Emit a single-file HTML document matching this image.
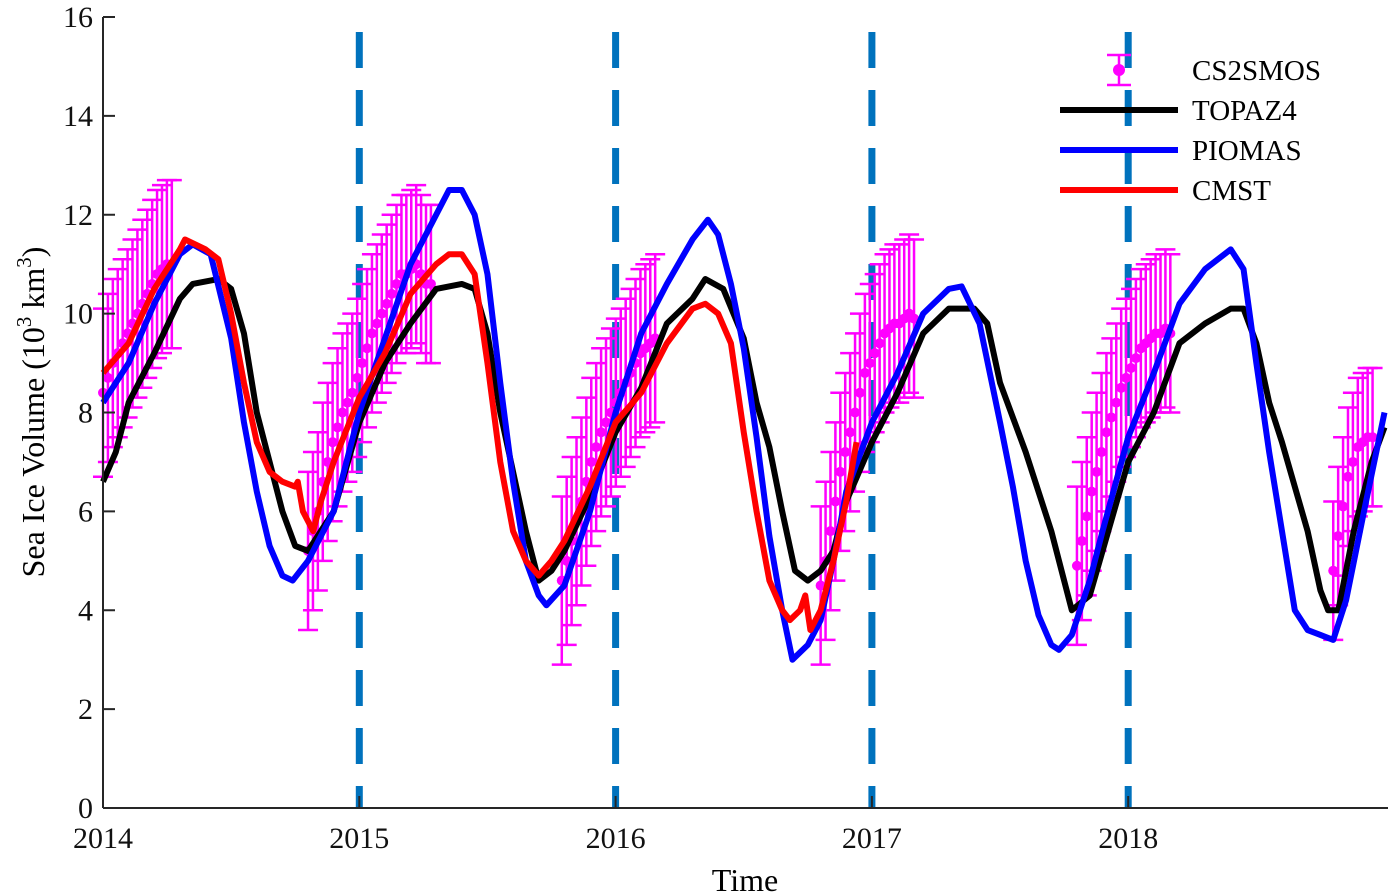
<!DOCTYPE html>
<html><head><meta charset="utf-8"><style>
html,body{margin:0;padding:0;background:#fff;}
svg{display:block;font-family:"Liberation Serif",serif;}
</style></head><body>
<svg id="chart" width="1400" height="896" xmlns="http://www.w3.org/2000/svg">
<g id="grid"></g>
<g id="err"></g>
<g id="lines"></g>
<g id="axes"></g>
<text transform="translate(44,412) rotate(-90)" text-anchor="middle" font-size="32">Sea Ice Volume (10<tspan dy="-13" font-size="21">3</tspan><tspan dy="13"> km</tspan><tspan dy="-13" font-size="21">3</tspan><tspan dy="13">)</tspan></text>
<text x="745" y="891" text-anchor="middle" font-size="32">Time</text>
<g id="legend"></g>
</svg>
<script>
const yearTicks=[2014,2015,2016,2017,2018];
const yTicks=[0,2,4,6,8,10,12,14,16];
const topazT=[2014.0,2014.05,2014.1,2014.2,2014.3,2014.35,2014.45,2014.5,2014.55,2014.6,2014.65,2014.7,2014.75,2014.8,2014.85,2014.9,2015.0,2015.1,2015.2,2015.3,2015.4,2015.45,2015.5,2015.55,2015.6,2015.65,2015.7,2015.75,2015.8,2015.9,2016.0,2016.1,2016.2,2016.3,2016.35,2016.42,2016.5,2016.55,2016.6,2016.65,2016.7,2016.75,2016.8,2016.85,2016.9,2017.0,2017.1,2017.2,2017.3,2017.4,2017.45,2017.5,2017.6,2017.7,2017.75,2017.78,2017.85,2017.9,2018.0,2018.1,2018.2,2018.3,2018.4,2018.45,2018.5,2018.55,2018.6,2018.7,2018.75,2018.78,2018.82,2018.88,2018.95,2019.0];
const topazV=[6.6,7.2,8.2,9.2,10.3,10.6,10.7,10.5,9.6,8.0,7.0,6.0,5.3,5.2,5.6,6.0,7.8,9.0,9.8,10.5,10.6,10.5,9.6,8.0,6.8,5.6,4.6,4.8,5.2,6.3,7.6,8.5,9.8,10.3,10.7,10.5,9.5,8.2,7.3,6.0,4.8,4.6,4.8,5.2,6.2,7.4,8.4,9.6,10.1,10.1,9.8,8.6,7.2,5.6,4.6,4.0,4.3,5.2,7.0,8.0,9.4,9.8,10.1,10.1,9.4,8.2,7.4,5.6,4.4,4.0,4.0,5.6,7.0,7.7];
const piomasT=[2014.0,2014.1,2014.2,2014.3,2014.35,2014.42,2014.5,2014.55,2014.6,2014.65,2014.7,2014.74,2014.8,2014.9,2015.0,2015.1,2015.2,2015.3,2015.35,2015.4,2015.45,2015.5,2015.55,2015.6,2015.65,2015.7,2015.73,2015.8,2015.9,2016.0,2016.1,2016.2,2016.3,2016.36,2016.4,2016.45,2016.5,2016.55,2016.6,2016.65,2016.69,2016.75,2016.8,2016.85,2016.9,2017.0,2017.1,2017.2,2017.3,2017.35,2017.42,2017.5,2017.55,2017.6,2017.65,2017.7,2017.73,2017.78,2017.85,2017.9,2018.0,2018.1,2018.2,2018.3,2018.4,2018.45,2018.5,2018.55,2018.6,2018.65,2018.7,2018.75,2018.8,2018.85,2018.92,2019.0];
const piomasV=[8.2,9.0,10.2,11.2,11.4,11.2,9.5,7.8,6.4,5.3,4.7,4.6,5.0,6.0,8.0,9.5,11.0,12.0,12.5,12.5,12.0,10.8,8.6,6.6,5.0,4.3,4.1,4.5,6.0,8.0,9.6,10.6,11.5,11.9,11.6,10.6,9.3,7.5,5.5,4.0,3.0,3.3,3.8,5.0,6.4,7.8,8.8,10.0,10.5,10.55,9.8,7.8,6.5,5.0,3.9,3.3,3.2,3.5,4.6,5.6,7.5,8.8,10.2,10.9,11.3,10.9,9.0,7.2,5.6,4.0,3.6,3.5,3.4,4.2,6.0,8.0];
const cmstT=[2014.0,2014.1,2014.2,2014.3,2014.32,2014.4,2014.45,2014.5,2014.55,2014.6,2014.65,2014.7,2014.75,2014.76,2014.78,2014.8,2014.82,2014.85,2014.9,2015.0,2015.1,2015.2,2015.3,2015.35,2015.4,2015.45,2015.5,2015.55,2015.6,2015.65,2015.7,2015.75,2015.8,2015.9,2016.0,2016.1,2016.2,2016.3,2016.35,2016.4,2016.45,2016.5,2016.55,2016.6,2016.65,2016.68,2016.72,2016.74,2016.76,2016.8,2016.85,2016.9,2016.94];
const cmstV=[8.8,9.4,10.5,11.3,11.5,11.3,11.1,10.0,8.6,7.4,6.8,6.6,6.5,6.6,6.0,5.8,5.6,6.2,7.0,8.3,9.2,10.4,11.0,11.2,11.2,10.8,9.0,7.0,5.6,5.0,4.7,5.0,5.4,6.5,7.8,8.4,9.4,10.1,10.2,10.0,9.4,7.6,6.0,4.6,4.0,3.8,4.0,4.3,3.6,4.0,5.0,6.2,7.4];
const csStarts=[2014.0,2014.8,2015.79,2016.8,2017.8,2018.8];
const csMeans=[
[8.4,8.7,9.0,9.2,9.4,9.6,9.8,10.0,10.2,10.4,10.6,10.8,10.9,11.0,11.0],
[5.2,5.6,6.0,6.6,7.0,7.4,7.7,8.0,8.2,8.4,8.7,9.0,9.3,9.6,9.8,10.0,10.2,10.4,10.6,10.8,10.8,10.9,11.0,10.8,10.6,10.6],
[4.6,5.0,5.4,5.8,6.2,6.6,7.0,7.3,7.6,7.8,8.0,8.2,8.4,8.6,8.8,9.0,9.2,9.3,9.4,9.5],
[4.5,5.0,5.6,6.2,6.8,7.2,7.6,8.0,8.4,8.8,9.0,9.2,9.4,9.6,9.7,9.8,9.8,9.9,10.0,9.9],
[4.9,5.4,5.9,6.4,6.8,7.2,7.6,7.9,8.2,8.5,8.7,8.9,9.1,9.3,9.4,9.5,9.6,9.6,9.7,9.6],
[4.8,5.5,6.1,6.7,7.0,7.3,7.4,7.5,7.5]];
const csErr=[1.7,1.6,1.7,1.6,1.6,1.4];

const X0=103,X1=1388,Y0=808,YT=17;
const xs=t=>X0+(t-2014)*256.3;
const ys=v=>Y0-v*(Y0-YT)/16;
const NS='http://www.w3.org/2000/svg';
function mk(tag,parent,attrs){const e=document.createElementNS(NS,tag);for(const k in attrs)e.setAttribute(k,attrs[k]);parent.appendChild(e);return e;}
const grid=document.getElementById('grid');
yearTicks.slice(1).forEach(y=>{
 const l=mk('line',grid,{x1:xs(y),x2:xs(y),y1:32,y2:Y0,stroke:'#0072BD','stroke-width':7,'stroke-dasharray':'36 22'});
 
 
});
const err=document.getElementById('err');
csStarts.forEach((s,w)=>{
 csMeans[w].forEach((m,i)=>{
  const t=s+i*7/365,x=xs(t),e=csErr[w];
  const g=mk('g',err,{stroke:'#FF00FF','stroke-width':2.5,fill:'#FF00FF'});
  
  
  mk('line',g,{x1:x,x2:x,y1:ys(m-e),y2:ys(m+e)});
  mk('line',g,{x1:x-10,x2:x+10,y1:ys(m-e),y2:ys(m-e)});
  mk('line',g,{x1:x-10,x2:x+10,y1:ys(m+e),y2:ys(m+e)});
  mk('circle',g,{cx:x,cy:ys(m),r:5,stroke:'none'});
 });
});
const lines=document.getElementById('lines');
function line(T,V,c,n){const p=mk('polyline',lines,{points:T.map((t,i)=>xs(t)+','+ys(V[i])).join(' '),fill:'none',stroke:c,'stroke-width':6,'stroke-linejoin':'round'});
 
 }
line(topazT,topazV,'#000000','topaz4-line');
line(piomasT,piomasV,'#0000FF','piomas-line');
line(cmstT,cmstV,'#FF0000','cmst-line');
const ax=document.getElementById('axes');
mk('line',ax,{x1:X0,x2:X0,y1:YT,y2:Y0,stroke:'#262626','stroke-width':2});
mk('line',ax,{x1:X0,x2:X1,y1:Y0,y2:Y0,stroke:'#262626','stroke-width':2});
yTicks.forEach(v=>{mk('line',ax,{x1:X0,x2:X0+12,y1:ys(v),y2:ys(v),stroke:'#262626','stroke-width':2});
 const t=mk('text',ax,{x:X0-10,y:ys(v)+10,'text-anchor':'end','font-size':30,fill:'#111'});t.textContent=v;
 
 });
yearTicks.forEach(y=>{mk('line',ax,{x1:xs(y),x2:xs(y),y1:Y0,y2:Y0-12,stroke:'#262626','stroke-width':2});
 const t=mk('text',ax,{x:xs(y),y:848,'text-anchor':'middle','font-size':30,fill:'#111'});t.textContent=y;
 
 });
const lg=document.getElementById('legend');
[['CS2SMOS','#FF00FF'],['TOPAZ4','#000000'],['PIOMAS','#0000FF'],['CMST','#FF0000']].forEach((d,i)=>{
 const y=70+i*40;
 const g=mk('g',lg,{});
 
 
 if(i===0){mk('line',g,{x1:1119,x2:1119,y1:y-15,y2:y+15,stroke:d[1],'stroke-width':2.5});
  mk('line',g,{x1:1107,x2:1131,y1:y-15,y2:y-15,stroke:d[1],'stroke-width':2.5});
  mk('line',g,{x1:1107,x2:1131,y1:y+15,y2:y+15,stroke:d[1],'stroke-width':2.5});
  mk('circle',g,{cx:1119,cy:y,r:6,fill:d[1]});}
 else mk('line',g,{x1:1060,x2:1178,y1:y,y2:y,stroke:d[1],'stroke-width':6});
 const t=mk('text',g,{x:1192,y:y+10,'font-size':29,fill:'#000'});t.textContent=d[0];
});
</script>
</body></html>
